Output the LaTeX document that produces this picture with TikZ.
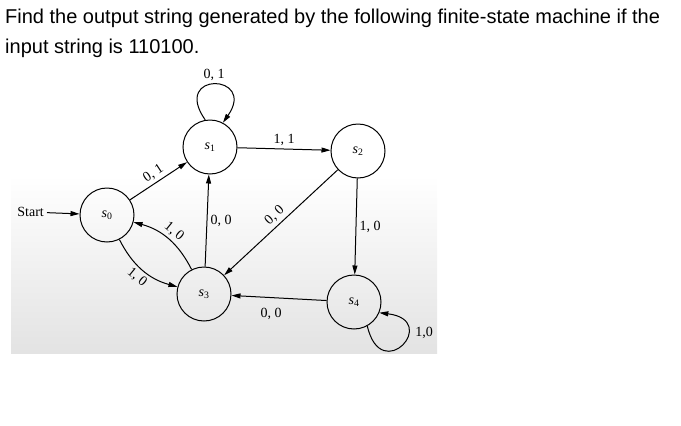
\documentclass[tikz,border=0pt]{standalone}
\usepackage{fontspec}
\setmainfont{Liberation Serif}
\newfontfamily\titlefont{Liberation Sans}
\usetikzlibrary{arrows.meta}

\newcommand{\sname}[1]{\textit{s}\textsubscript{#1}}

\tikzset{
    state/.style={circle, draw, line width=1pt, minimum size=54pt, inner sep=0pt, font=\fontsize{14}{14}\selectfont},
    lbl/.style={font=\fontsize{14}{14}\selectfont, inner sep=3pt},
    trans/.style={->, line width=1pt},
    question/.style={anchor=base west, inner sep=0pt, font=\titlefont\fontsize{20}{20}\selectfont}
}

\begin{document}
\begin{tikzpicture}[x=1pt, y=1pt, >={Stealth[length=9pt, width=5pt, inset=0pt]}]
    \useasboundingbox (0,0) rectangle (681,-426);

    % scanned background
    \shade[top color=white, bottom color=gray!22] (11,-175) rectangle (437,-353);

    % question
    \node[question] (q1) at (5,-23.5)
        {Find the output string generated by the following finite-state machine if the};
    \node[question] (q2) at (5,-53) {input string is 110100.};

    % states
    \node[state] (s0) at (107,-215) {\sname{0}};
    \node[state] (s1) at (210,-147) {\sname{1}};
    \node[state] (s2) at (358,-151) {\sname{2}};
    \node[state] (s3) at (204,-294) {\sname{3}};
    \node[state] (s4) at (354,-302) {\sname{4}};

    % start
    \node[lbl, anchor=east, font=\fontsize{14}{14}\selectfont] (start) at (47,-212) {Start};
    \draw[trans] (start) -- (s0);

    % transitions
    \draw[trans] (s0) -- (s1) node[lbl, midway, above, sloped] {0, 1};
    \draw[trans] (s1) -- (s2) node[lbl, midway, above] {1, 1};
    \draw[trans] (s2) -- (s3) node[lbl, midway, above, sloped] {0, 0};
    \draw[trans] (s2) -- (s4) node[lbl, midway, right] {1, 0};
    \draw[trans] (s3) -- (s1) node[lbl, midway, right] {0, 0};
    \draw[trans] (s4) -- (s3) node[lbl, midway, below=7pt, xshift=-8pt] {0, 0};
    \draw[trans] (s0) to[bend right=24] node[lbl, midway, below, sloped] {1, 0} (s3);
    \draw[trans] (s3) to[bend right=24] node[lbl, midway, above, sloped] {1, 0} (s0);

    % loops
    \draw[trans] (s1.100) .. controls +(125:60) and +(55:60) .. node[lbl, above] {0, 1} (s1.62);
    \draw[trans] (s4.-61) .. controls +(-77:62) and +(-7:62) .. (s4.-23);
    \node[lbl] (l4) at (424,-333) {1,0};
\end{tikzpicture}
\end{document}
